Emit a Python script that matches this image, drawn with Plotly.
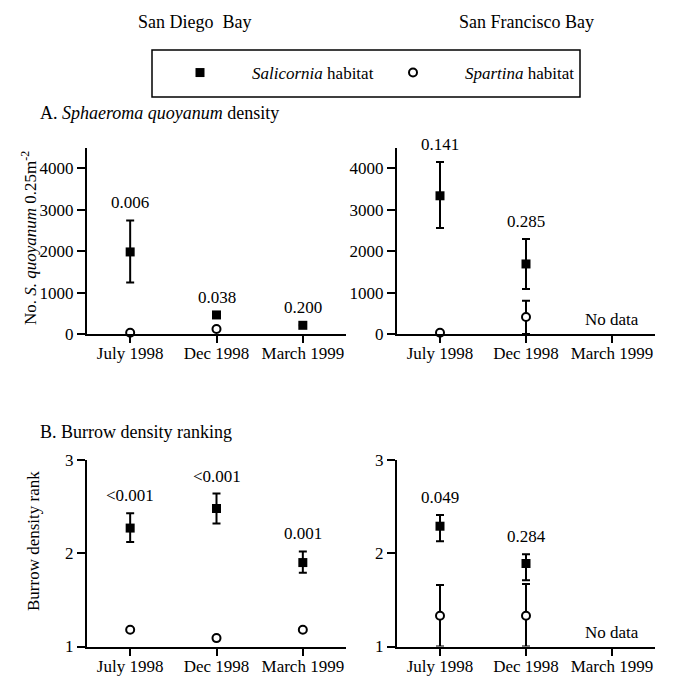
import plotly.graph_objects as go

months = ["July 1998", "Dec 1998", "March 1999"]

# A. Sphaeroma quoyanum density - San Diego Bay
sd_sal_density = [1980, 460, 210]
sd_sal_density_hi = [760, 0, 0]
sd_sal_density_lo = [740, 0, 0]
sd_spa_density = [30, 120, None]
sd_density_p = ["0.006", "0.038", "0.200"]

# A. density - San Francisco Bay
sf_sal_density = [3335, 1690, None]
sf_sal_density_hi = [815, 600, 0]
sf_sal_density_lo = [780, 605, 0]
sf_spa_density = [30, 410, None]
sf_spa_density_hi = [0, 393, 0]
sf_spa_density_lo = [0, 410, 0]
sf_density_p = ["0.141", "0.285", None]

# B. Burrow density ranking - San Diego Bay
sd_sal_rank = [2.27, 2.48, 1.90]
sd_sal_rank_hi = [0.16, 0.16, 0.12]
sd_sal_rank_lo = [0.15, 0.16, 0.11]
sd_spa_rank = [1.18, 1.09, 1.18]
sd_rank_p = ["<0.001", "<0.001", "0.001"]

# B. Burrow density ranking - San Francisco Bay
sf_sal_rank = [2.29, 1.89, None]
sf_sal_rank_hi = [0.12, 0.10, 0]
sf_sal_rank_lo = [0.16, 0.18, 0]
sf_spa_rank = [1.33, 1.33, None]
sf_spa_rank_hi = [0.33, 0.34, 0]
sf_spa_rank_lo = [0.33, 0.33, 0]
sf_rank_p = ["0.049", "0.284", None]

density_ticks = [0, 1000, 2000, 3000, 4000]
rank_ticks = [1, 2, 3]

FONT = "Liberation Serif"
FS = 17
W, H = 675, 677

fig = go.Figure()


def add_series(xa, ya, vals, hi, lo, symbol, fill, name, show, lw=None):
    err = None
    if hi is not None:
        err = dict(type="data", symmetric=False, array=hi, arrayminus=lo,
                   color="black", thickness=2, width=4)
    fig.add_trace(go.Scatter(
        x=months, y=vals, mode="markers", name=name, showlegend=show,
        legendgroup=name, legendwidth=lw,
        xaxis=xa, yaxis=ya, cliponaxis=False,
        marker=dict(symbol=symbol, size=9 if symbol == "square" else 8,
                    color=fill, line=dict(color="black", width=0 if symbol == "square" else 2)),
        error_y=err,
    ))


SAL = "<i>Salicornia</i> habitat"
SPA = "<i>Spartina</i> habitat"

add_series("x", "y", sd_sal_density, sd_sal_density_hi, sd_sal_density_lo, "square", "black", SAL, True, 104)
add_series("x", "y", sd_spa_density, None, None, "circle", "white", SPA, True, 130)
add_series("x2", "y2", sf_spa_density, sf_spa_density_hi, sf_spa_density_lo, "circle", "white", SPA, False)
add_series("x2", "y2", sf_sal_density, sf_sal_density_hi, sf_sal_density_lo, "square", "black", SAL, False)
add_series("x3", "y3", sd_spa_rank, None, None, "circle", "white", SPA, False)
add_series("x3", "y3", sd_sal_rank, sd_sal_rank_hi, sd_sal_rank_lo, "square", "black", SAL, False)
add_series("x4", "y4", sf_spa_rank, sf_spa_rank_hi, sf_spa_rank_lo, "circle", "white", SPA, False)
add_series("x4", "y4", sf_sal_rank, sf_sal_rank_hi, sf_sal_rank_lo, "square", "black", SAL, False)

annotations = []


def add_p(xa, ya, vals, hi, labels):
    for m, v, h, lab in zip(months, vals, hi, labels):
        if lab is None or v is None:
            continue
        annotations.append(dict(x=m, y=v + h, xref=xa, yref=ya, text=lab,
                                showarrow=False, yanchor="bottom", yshift=6,
                                font=dict(family=FONT, size=FS, color="black")))


add_p("x", "y", sd_sal_density, sd_sal_density_hi, sd_density_p)
add_p("x2", "y2", sf_sal_density, sf_sal_density_hi, sf_density_p)
add_p("x3", "y3", sd_sal_rank, sd_sal_rank_hi, sd_rank_p)
add_p("x4", "y4", sf_sal_rank, sf_sal_rank_hi, sf_rank_p)

# "No data" notes
annotations.append(dict(x="March 1999", y=360, xref="x2", yref="y2", text="No data",
                        showarrow=False, font=dict(family=FONT, size=FS, color="black")))
annotations.append(dict(x="March 1999", y=1.15, xref="x4", yref="y4", text="No data",
                        showarrow=False, font=dict(family=FONT, size=FS, color="black")))


def px(xp):
    return xp / W


def py(yp):
    return 1 - yp / H


def paper_text(x, y, text, xanchor="center", size=FS, textangle=0):
    annotations.append(dict(x=px(x), y=py(y), xref="paper", yref="paper", text=text,
                            showarrow=False, xanchor=xanchor, yanchor="middle",
                            textangle=textangle,
                            font=dict(family=FONT, size=size, color="black")))


paper_text(195, 22, "San Diego  Bay", size=18)
paper_text(526, 22, "San Francisco Bay", size=18)
paper_text(38, 113, "A. <i>Sphaeroma quoyanum</i> density", xanchor="left", size=18)
paper_text(38, 432, "B. Burrow density ranking", xanchor="left", size=18)
paper_text(29, 238, "No. <i>S. quoyanum</i> 0.25m<sup>-2</sup>", textangle=-90)
paper_text(33, 541, "Burrow density rank", textangle=-90)

axis_common = dict(showline=True, linecolor="black", linewidth=2, ticks="outside",
                   tickwidth=2, tickcolor="black", showgrid=False,
                   zeroline=False, tickfont=dict(family=FONT, size=FS, color="black"))

xdom_l = [px(87), px(346)]
xdom_r = [px(397), px(655)]
ydom_a = [py(334), py(147.5)]
ydom_b = [py(646.5), py(460)]

xcat = dict(type="category", categoryarray=months, range=[-0.5, 2.5], ticklen=7,
            ticklabelstandoff=-4, **axis_common)
ycommon = dict(ticklen=8, **axis_common)

fig.update_layout(
    width=W, height=H,
    margin=dict(l=0, r=0, t=0, b=0, autoexpand=False),
    paper_bgcolor="white", plot_bgcolor="white",
    font=dict(family=FONT, size=FS, color="black"),
    xaxis=dict(domain=xdom_l, anchor="y", **xcat),
    yaxis=dict(domain=ydom_a, anchor="x", range=[0, 4500], tickvals=density_ticks, **ycommon),
    xaxis2=dict(domain=xdom_r, anchor="y2", **xcat),
    yaxis2=dict(domain=ydom_a, anchor="x2", range=[0, 4500], tickvals=density_ticks, **ycommon),
    xaxis3=dict(domain=xdom_l, anchor="y3", **xcat),
    yaxis3=dict(domain=ydom_b, anchor="x3", range=[1, 3], tickvals=rank_ticks, **ycommon),
    xaxis4=dict(domain=xdom_r, anchor="y4", **xcat),
    yaxis4=dict(domain=ydom_b, anchor="x4", range=[1, 3], tickvals=rank_ticks, **ycommon),
    showlegend=True,
    legend=dict(orientation="h", x=px(148), y=py(73), xanchor="left", yanchor="middle",
                bgcolor="rgba(0,0,0,0)", borderwidth=0, itemwidth=94,
                font=dict(family=FONT, size=FS, color="black"), traceorder="normal"),
    shapes=[dict(type="rect", xref="paper", yref="paper", x0=px(152), x1=px(580),
                 y0=py(97), y1=py(50), line=dict(color="black", width=1.5))],
    annotations=annotations,
)

fig.write_html("out.html", config={"displayModeBar": False},
               post_script="document.body.style.margin='0';document.body.style.overflow='hidden';")
